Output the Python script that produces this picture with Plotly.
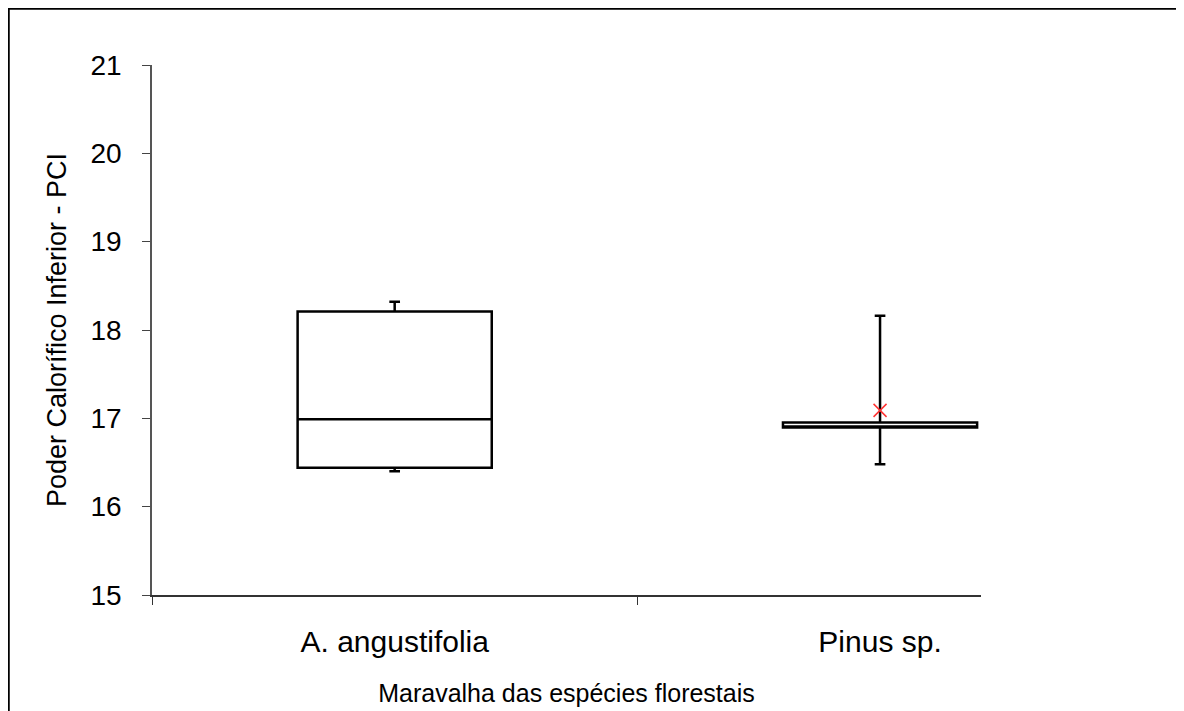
import plotly.graph_objects as go

species = ["A. angustifolia", "Pinus sp."]
q1 = [16.44, 16.896]
median = [16.99, 16.896]
q3 = [18.21, 16.953]
lower = [16.40, 16.48]
upper = [18.32, 18.16]
mean_pinus = 17.09

FONT = "Liberation Sans, Arial, sans-serif"

fig = go.Figure()
for i, sp in enumerate(species):
    fig.add_trace(go.Box(
        x=[sp], q1=[q1[i]], median=[median[i]], q3=[q3[i]],
        lowerfence=[lower[i]], upperfence=[upper[i]],
        width=0.4, whiskerwidth=0.055,
        fillcolor="white", line=dict(color="black", width=2.5),
        boxpoints=False, showlegend=False, hoverinfo="skip",
    ))

fig.add_trace(go.Scatter(
    x=[species[1]], y=[mean_pinus], mode="markers",
    marker=dict(symbol="x-thin", size=13, line=dict(color="#ff3333", width=1.5)),
    showlegend=False, hoverinfo="skip",
))

fig.update_xaxes(
    type="category", categoryorder="array", categoryarray=species,
    range=[-0.5, 1.208], tickson="boundaries", ticks="outside", ticklen=8,
    tickcolor="#333", showline=True, linecolor="#333", linewidth=1.5,
    showgrid=False, zeroline=False, ticklabelstandoff=19,
    tickfont=dict(size=30, color="black", family=FONT),
    title=dict(text="Maravalha das espécies florestais", standoff=28,
               font=dict(size=25, color="black", family=FONT)),
)
fig.update_yaxes(
    range=[15, 21], dtick=1, ticks="outside", ticklen=8, tickcolor="#444",
    showline=True, linecolor="#555", linewidth=1.5, showgrid=False, zeroline=False,
    ticklabelstandoff=15,
    tickfont=dict(size=28, color="black", family=FONT),
    title=dict(text="Poder Calorífico Inferior - PCI", standoff=16,
               font=dict(size=27, color="black", family=FONT)),
)

# page has an 8px body margin, so figure coords = page coords - 8
L, T, W, H = 144, 57, 829, 530
fig.add_shape(type="rect", xref="paper", yref="paper",
              x0=(0.5 - L) / W, x1=(1250 - L) / W,
              y0=1 - (800 - T) / H, y1=1 - (0.5 - T) / H,
              line=dict(color="black", width=2.5), fillcolor="rgba(0,0,0,0)")

fig.update_layout(
    width=1184, height=711,
    margin=dict(l=L, r=1184 - L - W, t=T, b=711 - T - H),
    plot_bgcolor="white", paper_bgcolor="white",
    font=dict(family=FONT),
)

fig.write_html("out.html")
